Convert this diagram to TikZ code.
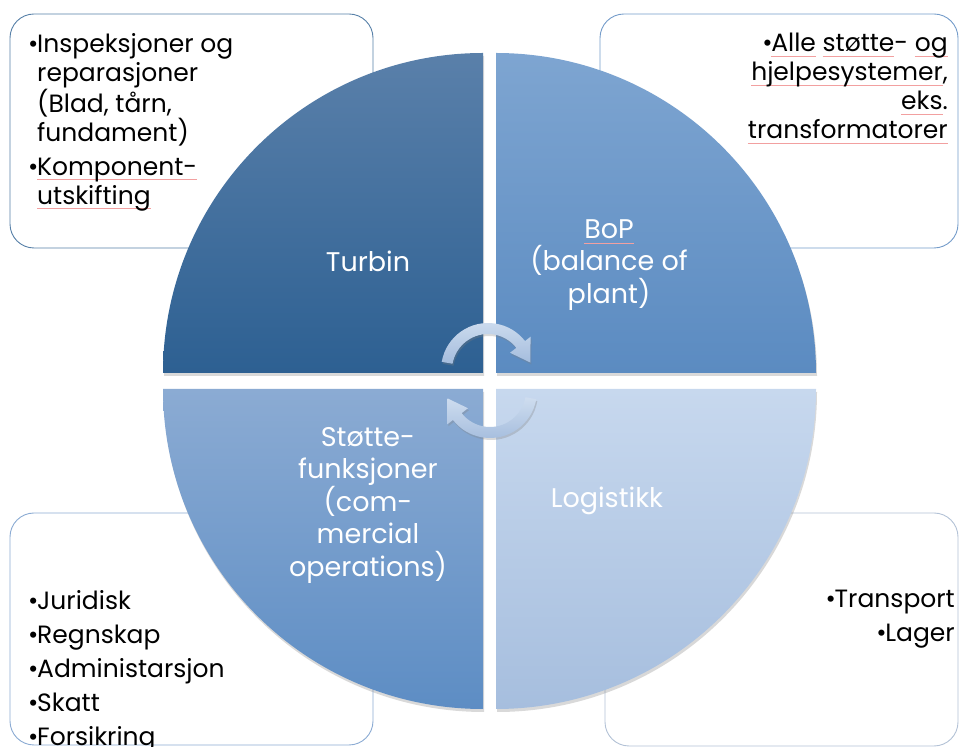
\documentclass[tikz,border=0pt]{standalone}
\usepackage{fontspec}
\setmainfont{Poppins}
\usetikzlibrary{shadows}

\definecolor{turbintop}{HTML}{5A80AA}
\definecolor{turbinbot}{HTML}{2D6092}
\definecolor{boptop}{HTML}{7EA5D1}
\definecolor{bopbot}{HTML}{5B8BC1}
\definecolor{stottetop}{HTML}{8BABD3}
\definecolor{stottebot}{HTML}{5D8DC4}
\definecolor{logtop}{HTML}{C7D8EE}
\definecolor{logbot}{HTML}{A6BEDE}
\definecolor{arrowtop}{HTML}{CFDDEF}
\definecolor{arrowbot}{HTML}{A3BCDD}
\definecolor{spellred}{HTML}{F2A0A0}

% thin red line under a word
\newcommand{\spellmark}[1]{\setbox0\hbox{#1}\rlap{\raisebox{-5pt}{\textcolor{spellred}{\rule{\wd0}{0.7pt}}}}\box0\relax}
\newcommand{\bul}{\makebox[9pt][l]{•}}

\begin{document}
\begin{tikzpicture}[x=1pt,y=1pt,
    quad/.style={drop shadow={shadow xshift=1pt,shadow yshift=-3pt,opacity=.3}},
    infobox/.style={rounded corners=24pt,line width=0.9pt,fill=white},
    quadlabel/.style={text=white,align=center,font=\fontsize{27}{32.5}\selectfont},
    bullets/.style={inner sep=0pt,font=\fontsize{25}{29}\selectfont},
    cyclearrow/.style={top color=arrowtop,bottom color=arrowbot,
        drop shadow={shadow xshift=1pt,shadow yshift=-2pt,opacity=.3}}]

    \useasboundingbox (0,0) rectangle (959,747);

    % boxes behind the circle
    \draw[infobox,draw=turbinbot!80] (10,499) rectangle (373,733);
    \draw[infobox,draw=bopbot!85] (600,499) rectangle (958,733);
    \draw[infobox,draw=stottetop] (10,2) rectangle (373,234);
    \draw[infobox,draw=logtop!90!black] (605,1) rectangle (958,234);

    % the four quarters
    \path[quad,top color=turbintop,bottom color=turbinbot]
        (483,374) -- (163,374) arc[start angle=180,end angle=90,radius=320] -- cycle;
    \path[quad,top color=boptop,bottom color=bopbot]
        (496,374) -- (496,694) arc[start angle=90,end angle=0,radius=320] -- cycle;
    \path[quad,top color=stottetop,bottom color=stottebot]
        (483,358) -- (483,38) arc[start angle=270,end angle=180,radius=320] -- cycle;
    \path[quad,top color=logtop,bottom color=logbot]
        (496,358) -- (816,358) arc[start angle=0,end angle=-90,radius=320] -- cycle;

    \node[quadlabel] (turbin) at (368,486) {Turbin};
    \node[quadlabel] (bop) at (609,482) {\spellmark{BoP}\\(balance of\\plant)};
    \node[quadlabel] (stotte) at (368,242) {Støtte-\\funksjoner\\(com-\\mercial\\operations)};
    \node[quadlabel] (logistikk) at (607,246) {Logistikk};

    % round arrows in the middle
    \begin{scope}[shift={(488,377)}]
        \path[cyclearrow] (170:47) arc[start angle=170,end angle=38,radius=47]
            -- (38:54) -- (10:43) -- (38:28) -- (38:36)
            arc[start angle=38,end angle=170,radius=36] -- cycle;
    \end{scope}
    \begin{scope}[shift={(490,356)}]
        \path[cyclearrow] (350:47) arc[start angle=350,end angle=218,radius=47]
            -- (218:54) -- (190:43) -- (218:28) -- (218:36)
            arc[start angle=218,end angle=350,radius=36] -- cycle;
    \end{scope}

    % lists
    \node[bullets,anchor=north west,align=left] (turbinlist) at (28,714)
        {\bul Inspeksjoner og\\\hspace*{9pt}reparasjoner\\\hspace*{9pt}(Blad, tårn,\\\hspace*{9pt}fundament)\\[5pt]
         \bul\spellmark{Komponent-}\\\hspace*{9pt}\spellmark{utskifting}};
    \node[bullets,anchor=north east,align=right] (boplist) at (948,714)
        {\bul\spellmark{Alle} \spellmark{støtte}- \spellmark{og}\\\spellmark{hjelpesystemer},\\\spellmark{eks}.\\\spellmark{transformatorer}};
    \node[bullets,anchor=north west,align=left] (stottelist) at (28,157)
        {\bul Juridisk\\[5pt]\bul Regnskap\\[5pt]\bul Administarsjon\\[5pt]\bul Skatt\\[5pt]\bul Forsikring};
    \node[bullets,anchor=north east,align=right] (loglist) at (955,157)
        {\bul Transport\\[5pt]\bul Lager};
\end{tikzpicture}
\end{document}
